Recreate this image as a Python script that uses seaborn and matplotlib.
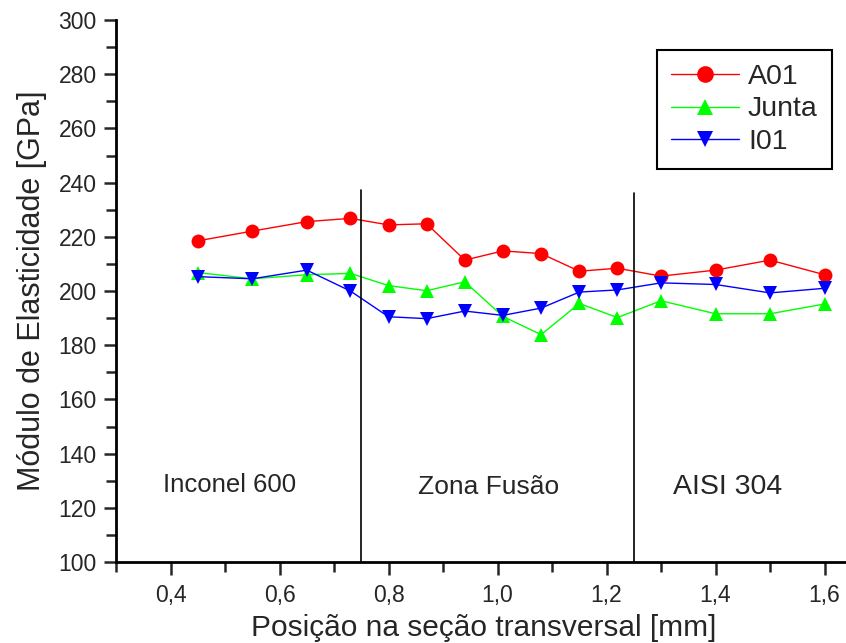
import numpy as np
import pandas as pd
import seaborn as sns
import matplotlib.pyplot as plt
from matplotlib.ticker import MultipleLocator, FuncFormatter

sns.set_theme(style="ticks")
plt.rcParams['font.family'] = ['Liberation Sans', 'DejaVu Sans']

# data
pos_inconel = [0.45, 0.55, 0.65, 0.73]
pos_zona = [0.80, 0.87, 0.94, 1.01, 1.08, 1.15, 1.22]
pos_aisi = [1.30, 1.40, 1.50, 1.60]
positions = pos_inconel + pos_zona + pos_aisi

a01 = [218.5, 222.1, 225.6, 226.8, 224.4, 224.8, 211.4, 214.8, 213.8, 207.3, 208.4, 205.5, 207.7, 211.4, 206.0]
junta = [206.8, 204.5, 206.0, 206.5, 202.0, 200.1, 203.4, 190.6, 183.9, 195.4, 190.2, 196.4, 191.6, 191.6, 195.2]
i01 = [205.3, 204.5, 207.7, 200.0, 190.5, 189.8, 192.6, 191.0, 193.7, 199.6, 200.4, 203.0, 202.4, 199.3, 201.0]

series = ['A01', 'Junta', 'I01']
colors = {'A01': '#ff0000', 'Junta': '#00ff00', 'I01': '#0000ff'}
markers = {'A01': 'o', 'Junta': '^', 'I01': 'v'}

boundaries = [0.75, 1.25]
boundary_tops = [237.3, 236.2]
regions = ['Inconel 600', 'Zona Fusão', 'AISI 304']
region_x = [0.509, 0.984, 1.423]
region_y = [128.3, 127.5, 127.5]
region_size = [18.5, 19, 20.5]

df = pd.DataFrame({
    'pos': positions * 3,
    'E': a01 + junta + i01,
    'serie': [s for s in series for _ in positions],
})

fig = plt.figure(figsize=(8.46, 6.43), dpi=100)
ax = fig.add_axes([116 / 846, 1 - 562 / 643, 735.8 / 846, 542 / 643])

sns.lineplot(data=df, x='pos', y='E', hue='serie', style='serie',
             palette=colors, markers=markers, dashes=False, markersize=10,
             markeredgewidth=0, linewidth=1, legend=False, ax=ax,
             hue_order=series, style_order=series)

for b, top in zip(boundaries, boundary_tops):
    ax.plot([b, b], [100, top], color='black', linewidth=1.2)

for name, rx, ry, fs in zip(regions, region_x, region_y, region_size):
    ax.text(rx, ry, name, ha='center', va='center', fontsize=fs)

ax.set_xlim(0.3, 1.65)
ax.set_ylim(100, 300)
ax.xaxis.set_minor_locator(MultipleLocator(0.1))
ax.yaxis.set_major_locator(MultipleLocator(20))
ax.yaxis.set_minor_locator(MultipleLocator(10))
ax.set_xticks([0.4, 0.6, 0.8, 1.0, 1.2, 1.4, 1.6])
ax.xaxis.set_major_formatter(FuncFormatter(lambda v, p: f'{v:.1f}'.replace('.', ',')))
ax.tick_params(which='major', direction='out', length=9, width=1.8, labelsize=16.5)
ax.tick_params(which='minor', direction='out', length=7, width=1.8)
ax.tick_params(axis='x', which='major', pad=7)
ax.tick_params(axis='y', which='major', pad=5)

for side in ['top', 'right']:
    ax.spines[side].set_visible(False)
for side in ['left', 'bottom']:
    ax.spines[side].set_linewidth(2)
    ax.spines[side].set_color('black')

ax.set_xlabel('Posição na seção transversal [mm]', fontsize=21.5, labelpad=5)
ax.set_ylabel('Módulo de Elasticidade [GPa]', fontsize=22, labelpad=8)

handles = [plt.Line2D([], [], color=colors[s], marker=markers[s], markersize=12,
                      markeredgewidth=0, linewidth=1) for s in series]
leg = ax.legend(handles, series, loc='upper right',
                bbox_to_anchor=(832 / 846, 1 - 50 / 643), bbox_transform=fig.transFigure,
                borderaxespad=0, fancybox=False, framealpha=1, edgecolor='black',
                fontsize=20.5, handlelength=2.4, handletextpad=0.3,
                labelspacing=0.22, borderpad=0.5)
leg.get_frame().set_linewidth(1.5)

fig.savefig('out.png', dpi=100)
